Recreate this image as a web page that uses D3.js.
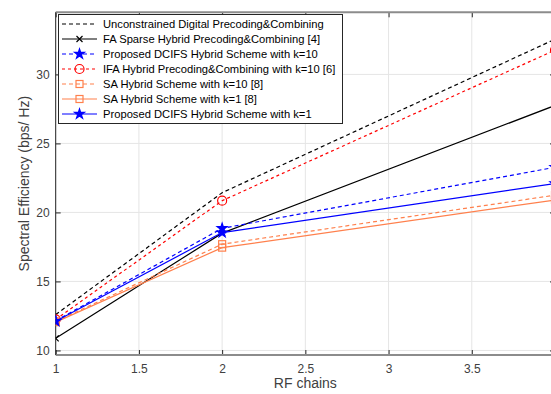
<!DOCTYPE html>
<html>
<head>
<meta charset="utf-8">
<script src="https://cdn.jsdelivr.net/npm/d3@7"></script>
<style>
  body { margin: 0; background: #fff; }
  svg { display: block; font-family: "Liberation Sans", Arial, sans-serif; }
</style>
</head>
<body>
<svg id="svg" width="551" height="394"></svg>
<script>
// data
var rfChains = [1, 2, 4];
var unconstrained = [12.6, 21.43, 32.55];
var faSparse = [10.88, 18.5, 27.75];
var dcifs10 = [12.15, 18.85, 23.27];
var ifa10 = [12.25, 20.85, 31.76];
var sa10 = [12.1, 17.7, 21.25];
var sa1 = [12.05, 17.45, 20.9];
var dcifs1 = [12.12, 18.54, 22.1];
var xTicks = [1, 1.5, 2, 2.5, 3, 3.5, 4];
var yTicks = [10, 15, 20, 25, 30];

var orange = '#ff804d';
var series = [
  { name: 'Unconstrained Digital Precoding&Combining', values: unconstrained, color: '#000', dash: '4,3', marker: 'none' },
  { name: 'FA Sparse Hybrid Precoding&Combining [4]', values: faSparse, color: '#000', dash: null, marker: 'x' },
  { name: 'Proposed DCIFS Hybrid Scheme with k=10', values: dcifs10, color: '#0000ff', dash: '4,3', marker: 'star' },
  { name: 'IFA Hybrid Precoding&Combining with k=10 [6]', values: ifa10, color: '#ff0000', dash: '3,3', marker: 'circle' },
  { name: 'SA Hybrid Scheme with k=10 [8]', values: sa10, color: orange, dash: '4,3', marker: 'square' },
  { name: 'SA Hybrid Scheme with k=1 [8]', values: sa1, color: orange, dash: null, marker: 'square' },
  { name: 'Proposed DCIFS Hybrid Scheme with k=1', values: dcifs1, color: '#0000ff', dash: null, marker: 'star' }
];

var svg = d3.select('svg');
// plot box (right edge falls just outside the picture, as in the reference)
var pLeft = 55.7, pRight = 555, pTop = 12.3, pBottom = 355;

var xScale = d3.scaleLinear().domain([1, 4]).range([pLeft, pRight]);
var yScale = d3.scaleLinear().domain([9.67, 34.5]).range([pBottom, pTop]);

svg.append('defs').append('clipPath').attr('id', 'plotclip')
  .append('rect').attr('x', pLeft).attr('y', pTop)
  .attr('width', pRight - pLeft).attr('height', pBottom - pTop);

// grid
var grid = svg.append('g');
grid.selectAll('.vg').data(xTicks).enter().append('line')
  .attr('x1', d => xScale(d)).attr('x2', d => xScale(d))
  .attr('y1', pTop).attr('y2', pBottom)
  .attr('stroke', '#e5e5e5').attr('stroke-width', 1);
grid.selectAll('.hg').data(yTicks).enter().append('line')
  .attr('x1', pLeft).attr('x2', pRight)
  .attr('y1', d => yScale(d)).attr('y2', d => yScale(d))
  .attr('stroke', '#e5e5e5').attr('stroke-width', 1);

// axes (inward ticks, MATLAB style)
var axisColor = '#262626';
var xAxisB = svg.append('g').attr('transform', `translate(0, ${pBottom})`)
  .call(d3.axisBottom(xScale).tickValues(xTicks.slice(0, 6)).tickSize(-5).tickPadding(9).tickFormat(d3.format('')));
var xAxisT = svg.append('g').attr('transform', `translate(0, ${pTop})`)
  .call(d3.axisTop(xScale).tickValues(xTicks).tickSize(-5).tickFormat(''));
var yAxisL = svg.append('g').attr('transform', `translate(${pLeft}, 0)`)
  .call(d3.axisLeft(yScale).tickValues(yTicks).tickSize(-5).tickPadding(6));
var yAxisR = svg.append('g').attr('transform', `translate(${pRight}, 0)`)
  .call(d3.axisRight(yScale).tickValues(yTicks).tickSize(-5).tickFormat(''));

[xAxisB, xAxisT, yAxisL, yAxisR].forEach(function (a) {
  a.select('.domain').remove();
  a.selectAll('line').attr('stroke', axisColor);
  a.selectAll('text').attr('fill', '#404040').attr('font-size', 12)
    .attr('font-family', '"Liberation Sans", Arial, sans-serif');
});

// box
svg.append('line').attr('x1', pLeft).attr('x2', pRight).attr('y1', pTop).attr('y2', pTop)
  .attr('stroke', '#8c8c8c').attr('stroke-width', 2);
svg.append('line').attr('x1', pLeft).attr('x2', pRight).attr('y1', pBottom).attr('y2', pBottom)
  .attr('stroke', '#8c8c8c').attr('stroke-width', 2);
svg.append('line').attr('x1', pLeft).attr('x2', pLeft).attr('y1', pTop).attr('y2', pBottom)
  .attr('stroke', axisColor).attr('stroke-width', 1);
svg.append('line').attr('x1', pRight).attr('x2', pRight).attr('y1', pTop).attr('y2', pBottom)
  .attr('stroke', axisColor).attr('stroke-width', 1);

function drawMarker(g, type, color, x, y) {
  if (type === 'x') {
    g.append('path').attr('d', `M${x - 3},${y - 3}L${x + 3},${y + 3}M${x - 3},${y + 3}L${x + 3},${y - 3}`)
      .attr('stroke', color).attr('stroke-width', 1.2).attr('fill', 'none');
  } else if (type === 'circle') {
    g.append('circle').attr('cx', x).attr('cy', y).attr('r', 4.5)
      .attr('stroke', color).attr('stroke-width', 1.2).attr('fill', 'none');
  } else if (type === 'square') {
    g.append('rect').attr('x', x - 3.5).attr('y', y - 3.5).attr('width', 7).attr('height', 7)
      .attr('stroke', color).attr('stroke-width', 1.2).attr('fill', 'none');
  } else if (type === 'star') {
    g.append('path').attr('d', d3.symbol().type(d3.symbolStar).size(30)())
      .attr('transform', `translate(${x},${y})`)
      .attr('stroke', color).attr('stroke-width', 1.2).attr('fill', color);
  }
}

// lines
var plot = svg.append('g').attr('clip-path', 'url(#plotclip)');
var line = d3.line().x((d, i) => xScale(rfChains[i])).y(d => yScale(d));
series.forEach(function (s) {
  plot.append('path').datum(s.values)
    .attr('d', line)
    .attr('fill', 'none')
    .attr('stroke', s.color)
    .attr('stroke-width', 1.2)
    .attr('stroke-dasharray', s.dash);
  s.values.forEach(function (v, i) {
    drawMarker(plot, s.marker, s.color, xScale(rfChains[i]), yScale(v));
  });
});

// labels
svg.append('text')
  .attr('x', (pLeft + pRight) / 2).attr('y', 388)
  .attr('text-anchor', 'middle').attr('font-size', 14).attr('fill', '#404040')
  .text('RF chains');
svg.append('text')
  .attr('transform', `translate(29, ${(pTop + pBottom) / 2}) rotate(-90)`)
  .attr('text-anchor', 'middle').attr('font-size', 14).attr('fill', '#404040')
  .text('Spectral Efficiency (bps/ Hz)');

// legend
var legend = svg.append('g');
legend.append('rect')
  .attr('x', 58.5).attr('y', 14.5).attr('width', 284).attr('height', 109)
  .attr('fill', '#fff').attr('stroke', axisColor).attr('stroke-width', 1);
series.forEach(function (s, i) {
  var y = 24 + i * 15;
  legend.append('line')
    .attr('x1', 62).attr('x2', 97).attr('y1', y).attr('y2', y)
    .attr('stroke', s.color).attr('stroke-width', 1.2)
    .attr('stroke-dasharray', s.dash);
  drawMarker(legend, s.marker, s.color, 79.5, y);
  legend.append('text')
    .attr('x', 103).attr('y', y).attr('dy', '0.35em')
    .attr('font-size', 11.2).attr('fill', '#000')
    .text(s.name);
});
</script>
</body>
</html>
